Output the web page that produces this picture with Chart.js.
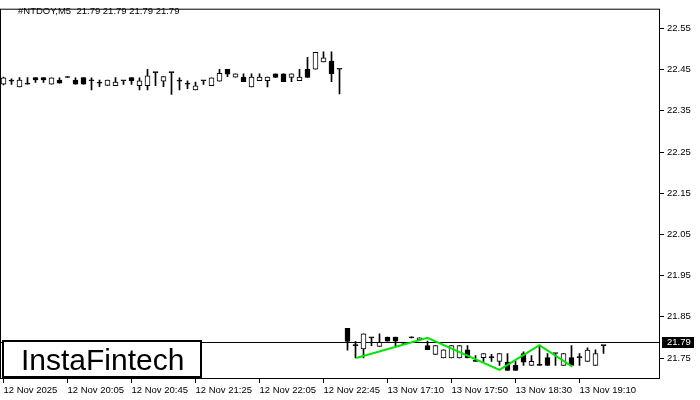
<!DOCTYPE html>
<html>
<head>
<meta charset="utf-8">
<script src="https://cdn.jsdelivr.net/npm/chart.js@4.4.1/dist/chart.umd.min.js"></script>
<style>
  body { margin: 0; background: #fff; }
  #wrap { width: 700px; height: 400px; }
</style>
</head>
<body>
<div id="wrap"><canvas id="candleChart" width="700" height="400"></canvas></div>
<script>
// NTDOY M5 candles (index 0 = 12 Nov 19:25)
const opens = [
  22.415, 22.422, 22.408, 22.415, 22.431, 22.431, 22.415, 22.425, 22.431, 22.425,
  22.431, 22.423, 22.417, 22.412, 22.411, 22.423, 22.431, 22.411, 22.411, 22.443,
  22.422, 22.443, 22.422, 22.415, 22.401, 22.423, 22.411, 22.422, 22.451, 22.432,
  22.432, 22.408, 22.423, 22.423, 22.440, 22.440, 22.431, 22.423, 22.451, 22.451,
  22.469, 22.471, 22.451,
  21.822, 21.780, 21.772, 21.799, 21.778, 21.801, 21.801, 21.786, 21.799, 21.794,
  21.780, 21.759, 21.750, 21.750, 21.750, 21.770, 21.742, 21.751, 21.751, 21.742,
  21.740, 21.732, 21.761, 21.732, 21.732, 21.751, 21.761, 21.732, 21.751, 21.751,
  21.742, 21.732, 21.780
];
const highs = [
  22.432, 22.428, 22.431, 22.431, 22.431, 22.431, 22.430, 22.430, 22.431, 22.430,
  22.431, 22.430, 22.425, 22.425, 22.431, 22.423, 22.431, 22.430, 22.451, 22.443,
  22.433, 22.443, 22.430, 22.423, 22.420, 22.423, 22.430, 22.451, 22.451, 22.440,
  22.440, 22.440, 22.440, 22.432, 22.440, 22.440, 22.440, 22.451, 22.480, 22.492,
  22.493, 22.493, 22.451,
  21.822, 21.790, 21.809, 21.799, 21.809, 21.801, 21.801, 21.788, 21.799, 21.799,
  21.791, 21.780, 21.770, 21.780, 21.780, 21.780, 21.756, 21.761, 21.759, 21.761,
  21.761, 21.742, 21.765, 21.756, 21.780, 21.761, 21.761, 21.761, 21.780, 21.761,
  21.775, 21.770, 21.780
];
const lows = [
  22.413, 22.414, 22.408, 22.415, 22.419, 22.419, 22.415, 22.417, 22.431, 22.415,
  22.415, 22.401, 22.409, 22.412, 22.411, 22.414, 22.414, 22.401, 22.401, 22.411,
  22.409, 22.390, 22.401, 22.404, 22.401, 22.414, 22.411, 22.422, 22.433, 22.432,
  22.421, 22.408, 22.423, 22.408, 22.431, 22.421, 22.421, 22.423, 22.431, 22.451,
  22.469, 22.421, 22.391,
  21.769, 21.750, 21.750, 21.780, 21.778, 21.791, 21.780, 21.784, 21.799, 21.794,
  21.770, 21.759, 21.750, 21.750, 21.750, 21.750, 21.742, 21.742, 21.742, 21.732,
  21.720, 21.720, 21.732, 21.732, 21.732, 21.732, 21.732, 21.732, 21.732, 21.732,
  21.742, 21.732, 21.761
];
const closes = [
  22.430, 22.422, 22.425, 22.415, 22.425, 22.425, 22.430, 22.417, 22.431, 22.415,
  22.415, 22.423, 22.417, 22.425, 22.420, 22.423, 22.423, 22.423, 22.435, 22.443,
  22.433, 22.443, 22.422, 22.415, 22.411, 22.423, 22.430, 22.441, 22.439, 22.440,
  22.421, 22.432, 22.432, 22.432, 22.431, 22.421, 22.440, 22.432, 22.431, 22.492,
  22.479, 22.440, 22.451,
  21.790, 21.780, 21.809, 21.799, 21.788, 21.791, 21.791, 21.786, 21.799, 21.799,
  21.770, 21.780, 21.770, 21.780, 21.780, 21.750, 21.742, 21.761, 21.751, 21.761,
  21.720, 21.720, 21.740, 21.742, 21.732, 21.732, 21.761, 21.761, 21.732, 21.751,
  21.769, 21.761, 21.780
];

// time labels, one every 8 candles
const xTickIndex = [0, 8, 16, 24, 32, 40, 48, 56, 64, 72];
const xTickLabels = ['12 Nov 2025', '12 Nov 20:05', '12 Nov 20:45', '12 Nov 21:25', '12 Nov 22:05',
  '12 Nov 22:45', '13 Nov 17:10', '13 Nov 17:50', '13 Nov 18:30', '13 Nov 19:10'];
const yTicks = [21.75, 21.85, 21.95, 22.05, 22.15, 22.25, 22.35, 22.45, 22.55];

// green pattern line
const patternX = [44.1, 53.0, 62.0, 67.0, 71.1];
const patternY = [21.750, 21.799, 21.721, 21.781, 21.729];

const lastPrice = 21.79;
const titleText = '#NTDOY,M5  21.79 21.79 21.79 21.79';

const tickFont = { family: 'Liberation Sans', size: 9.5 };

const bodyColors = opens.map((o, i) => closes[i] > o ? '#ffffff' : '#000000');

const framePlugin = {
  id: 'frame',
  beforeDatasetsDraw(chart) {
    const { ctx, chartArea: a, scales } = chart;
    const y = Math.round(scales.y.getPixelForValue(lastPrice)) + 0.5;
    ctx.save();
    ctx.strokeStyle = '#000';
    ctx.lineWidth = 1;
    ctx.beginPath();
    ctx.moveTo(a.left, y);
    ctx.lineTo(a.right, y);
    ctx.stroke();
    ctx.restore();
  },
  afterDraw(chart) {
    const { ctx, chartArea: a, scales } = chart;
    ctx.save();
    ctx.strokeStyle = '#000';
    ctx.lineWidth = 1;
    ctx.strokeRect(a.left + 0.5, a.top + 0.5, a.right - a.left - 1, a.bottom - a.top);

    // title
    ctx.fillStyle = '#000';
    ctx.font = '9.5px "Liberation Sans"';
    ctx.textBaseline = 'top';
    ctx.textAlign = 'left';
    ctx.fillText(titleText, 18, 7);

    // last price box
    const y = scales.y.getPixelForValue(lastPrice);
    ctx.fillStyle = '#000';
    ctx.fillRect(a.right + 2, Math.round(y) - 5, 32, 11);
    ctx.fillStyle = '#fff';
    ctx.textBaseline = 'middle';
    ctx.fillText(lastPrice.toFixed(2), a.right + 7, Math.round(y) + 0.5);

    // logo box
    ctx.fillStyle = '#fff';
    ctx.fillRect(3, 341, 198, 36);
    ctx.strokeStyle = '#000';
    ctx.lineWidth = 2;
    ctx.strokeRect(3, 341, 198, 36);
    ctx.fillStyle = '#000';
    ctx.font = '30px "Liberation Sans"';
    ctx.textBaseline = 'alphabetic';
    ctx.fillText('InstaFintech', 21, 370);
    ctx.restore();
  }
};

new Chart(document.getElementById('candleChart').getContext('2d'), {
  type: 'bar',
  data: {
    datasets: [
      {
        type: 'line',
        data: patternX.map((x, i) => ({ x: x, y: patternY[i] })),
        borderColor: '#00e600',
        borderWidth: 2,
        pointRadius: 0,
        tension: 0,
        order: 0
      },
      {
        data: opens.map((o, i) => ({ x: i, y: [o, closes[i]] })),
        backgroundColor: bodyColors,
        borderColor: '#000',
        borderWidth: 1,
        borderSkipped: false,
        barThickness: 5,
        minBarLength: 1,
        grouped: false,
        order: 1
      },
      {
        data: lows.map((l, i) => ({ x: i, y: [l, highs[i]] })),
        backgroundColor: '#000',
        borderWidth: 0,
        barThickness: 1,
        minBarLength: 1,
        grouped: false,
        order: 2
      }
    ]
  },
  options: {
    responsive: false,
    animation: false,
    layout: { padding: { top: 5, left: 0, right: 0, bottom: 0 } },
    plugins: { legend: { display: false }, tooltip: { enabled: false } },
    scales: {
      x: {
        type: 'linear',
        offset: false,
        min: -0.4375,
        max: 82.0625,
        grid: { offset: false, drawOnChartArea: false, tickLength: 5, color: '#000' },
        border: { display: false },
        afterBuildTicks: s => { s.ticks = xTickIndex.map(v => ({ value: v })); },
        afterFit: s => { s.height = 22; },
        ticks: {
          color: '#000',
          font: tickFont,
          align: 'start',
          maxRotation: 0,
          autoSkip: false,
          padding: 2,
          callback: v => xTickLabels[xTickIndex.indexOf(v)]
        }
      },
      y: {
        position: 'right',
        min: 21.7015,
        max: 22.598,
        grid: { drawOnChartArea: false, tickLength: 4, color: '#000' },
        border: { display: false },
        afterBuildTicks: s => { s.ticks = yTicks.map(v => ({ value: v })); },
        afterFit: s => { s.width = 40; },
        ticks: {
          color: '#000',
          font: tickFont,
          padding: 3,
          callback: v => v.toFixed(2)
        }
      }
    }
  },
  plugins: [framePlugin]
});
</script>
</body>
</html>
